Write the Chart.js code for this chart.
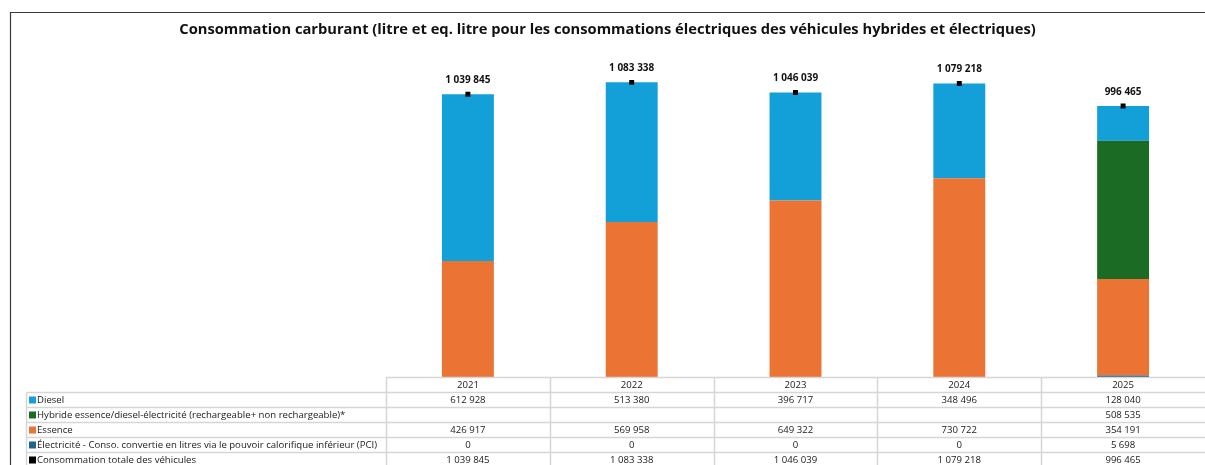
<!DOCTYPE html>
<html lang="fr">
<head>
<meta charset="UTF-8">
<title>Consommation carburant</title>
<script src="https://cdn.jsdelivr.net/npm/chart.js"></script>
<style>
  html, body { margin: 0; padding: 0; background: #ffffff; }
  #wrap { width: 1205px; height: 465px; }
</style>
</head>
<body>
<div id="wrap"><canvas id="chart" width="1205" height="465"></canvas></div>
<script>
// données
const years = ['2021', '2022', '2023', '2024', '2025'];
const diesel = [612928, 513380, 396717, 348496, 128040];
const hybride = [null, null, null, null, 508535];
const essence = [426917, 569958, 649322, 730722, 354191];
const electricite = [0, 0, 0, 0, 5698];
const total = [1039845, 1083338, 1046039, 1079218, 996465];

const titleText = 'Consommation carburant (litre et eq. litre pour les consommations électriques des véhicules hybrides et électriques)';
const labelDiesel = 'Diesel';
const labelHybride = 'Hybride essence/diesel-électricité (rechargeable+ non rechargeable)*';
const labelEssence = 'Essence';
const labelElec = 'Électricité - Conso. convertie en litres via le pouvoir calorifique inférieur (PCI)';
const labelTotal = 'Consommation totale des véhicules';

const FONT = "'Open Sans', sans-serif";
const C_DIESEL = '#139fd8';
const C_HYBRIDE = '#1b6b24';
const C_ESSENCE = '#eb7334';
const C_ELEC = '#1f648c';
const C_TOTAL = '#000000';

function fmt(v) {
    if (v === null || v === undefined) return '';
    return String(v).replace(/\B(?=(\d{3})+(?!\d))/g, ' ');
}

// lignes du tableau sous le graphique (ordre d'affichage)
const tableRows = [
    {label: labelDiesel, color: C_DIESEL, values: diesel},
    {label: labelHybride, color: C_HYBRIDE, values: hybride},
    {label: labelEssence, color: C_ESSENCE, values: essence},
    {label: labelElec, color: C_ELEC, values: electricite},
    {label: labelTotal, color: C_TOTAL, values: total}
];

const framePlugin = {
    id: 'frame',
    beforeDraw(chart) {
        const ctx = chart.ctx;
        ctx.save();
        ctx.strokeStyle = '#3a3a3a';
        ctx.lineWidth = 1.2;
        ctx.beginPath();
        ctx.moveTo(10.5, chart.height);
        ctx.lineTo(10.5, 12.5);
        ctx.lineTo(chart.width, 12.5);
        ctx.stroke();
        ctx.restore();
    }
};

const totalLabelPlugin = {
    id: 'totalLabels',
    afterDatasetsDraw(chart) {
        const ctx = chart.ctx;
        const meta = chart.getDatasetMeta(4);
        ctx.save();
        ctx.font = "bold 10px " + FONT;
        ctx.fillStyle = '#111';
        ctx.textAlign = 'center';
        ctx.textBaseline = 'middle';
        meta.data.forEach((pt, i) => {
            ctx.fillText(fmt(total[i]), pt.x, pt.y - 14);
        });
        ctx.restore();
    }
};

const tablePlugin = {
    id: 'dataTable',
    afterDraw(chart) {
        const ctx = chart.ctx;
        const x = chart.scales.x;
        const area = chart.chartArea;
        const colW = (area.right - area.left) / years.length;
        const top = area.bottom + 0.5;
        const rowH = 15;
        const labelLeft = 26.5;
        const nRows = tableRows.length + 1;

        ctx.save();
        ctx.strokeStyle = '#d6d6d6';
        ctx.lineWidth = 1.5;
        ctx.beginPath();
        for (let k = 0; k <= nRows; k++) {
            const y = top + k * rowH;
            ctx.moveTo(k === 0 ? area.left : labelLeft, y);
            ctx.lineTo(chart.width, y);
        }
        ctx.moveTo(labelLeft, top + rowH);
        ctx.lineTo(labelLeft, chart.height);
        // le bord droit du tableau est hors cadre
        for (let i = 0; i < years.length; i++) {
            const cx = Math.round(area.left + i * colW) + 0.5;
            ctx.moveTo(cx, top);
            ctx.lineTo(cx, chart.height);
        }
        ctx.stroke();

        ctx.font = "9.6px " + FONT;
        ctx.fillStyle = '#1a1a1a';
        ctx.textBaseline = 'middle';
        ctx.textAlign = 'center';
        years.forEach((yr, i) => {
            ctx.fillText(yr, x.getPixelForValue(i), top + rowH / 2 + 0.5);
        });
        tableRows.forEach((row, r) => {
            const yc = top + (r + 1) * rowH + rowH / 2 + 0.5;
            ctx.fillStyle = row.color;
            ctx.fillRect(29, yc - 4, 7, 7);
            ctx.fillStyle = '#1a1a1a';
            ctx.textAlign = 'left';
            ctx.fillText(row.label, 37, yc);
            ctx.textAlign = 'center';
            row.values.forEach((v, i) => {
                ctx.fillText(fmt(v), x.getPixelForValue(i), yc);
            });
        });
        ctx.restore();
    }
};

const barOpts = {
    type: 'bar',
    stack: 'fuel',
    order: 1,
    categoryPercentage: 1,
    barPercentage: 0.317,
    borderWidth: 0
};

new Chart(document.getElementById('chart'), {
    type: 'bar',
    data: {
        labels: years,
        datasets: [
            Object.assign({label: labelElec, data: electricite, backgroundColor: C_ELEC}, barOpts),
            Object.assign({label: labelEssence, data: essence, backgroundColor: C_ESSENCE}, barOpts),
            Object.assign({label: labelHybride, data: hybride, backgroundColor: C_HYBRIDE}, barOpts),
            Object.assign({label: labelDiesel, data: diesel, backgroundColor: C_DIESEL}, barOpts),
            {
                type: 'line',
                label: labelTotal,
                data: total,
                stack: 'total',
                order: 0,
                showLine: false,
                pointStyle: 'rect',
                pointRadius: 3.5,
                pointHoverRadius: 3.5,
                backgroundColor: C_TOTAL,
                borderColor: C_TOTAL,
                borderWidth: 0
            }
        ]
    },
    options: {
        responsive: false,
        animation: false,
        layout: {
            autoPadding: false,
            padding: {left: 10, right: 0, top: 12, bottom: 88}
        },
        plugins: {
            legend: {display: false},
            tooltip: {enabled: false},
            title: {
                display: true,
                text: titleText,
                color: '#111',
                font: {family: FONT, size: 14.7, weight: 'bold'},
                padding: {top: 9, bottom: 12}
            }
        },
        scales: {
            x: {
                display: false,
                stacked: true
            },
            y: {
                stacked: true,
                min: 0,
                max: 1200000,
                ticks: {display: false},
                grid: {display: false},
                border: {display: false},
                afterFit(scale) { scale.width = 376; }
            }
        }
    },
    plugins: [framePlugin, totalLabelPlugin, tablePlugin]
});
</script>
</body>
</html>
